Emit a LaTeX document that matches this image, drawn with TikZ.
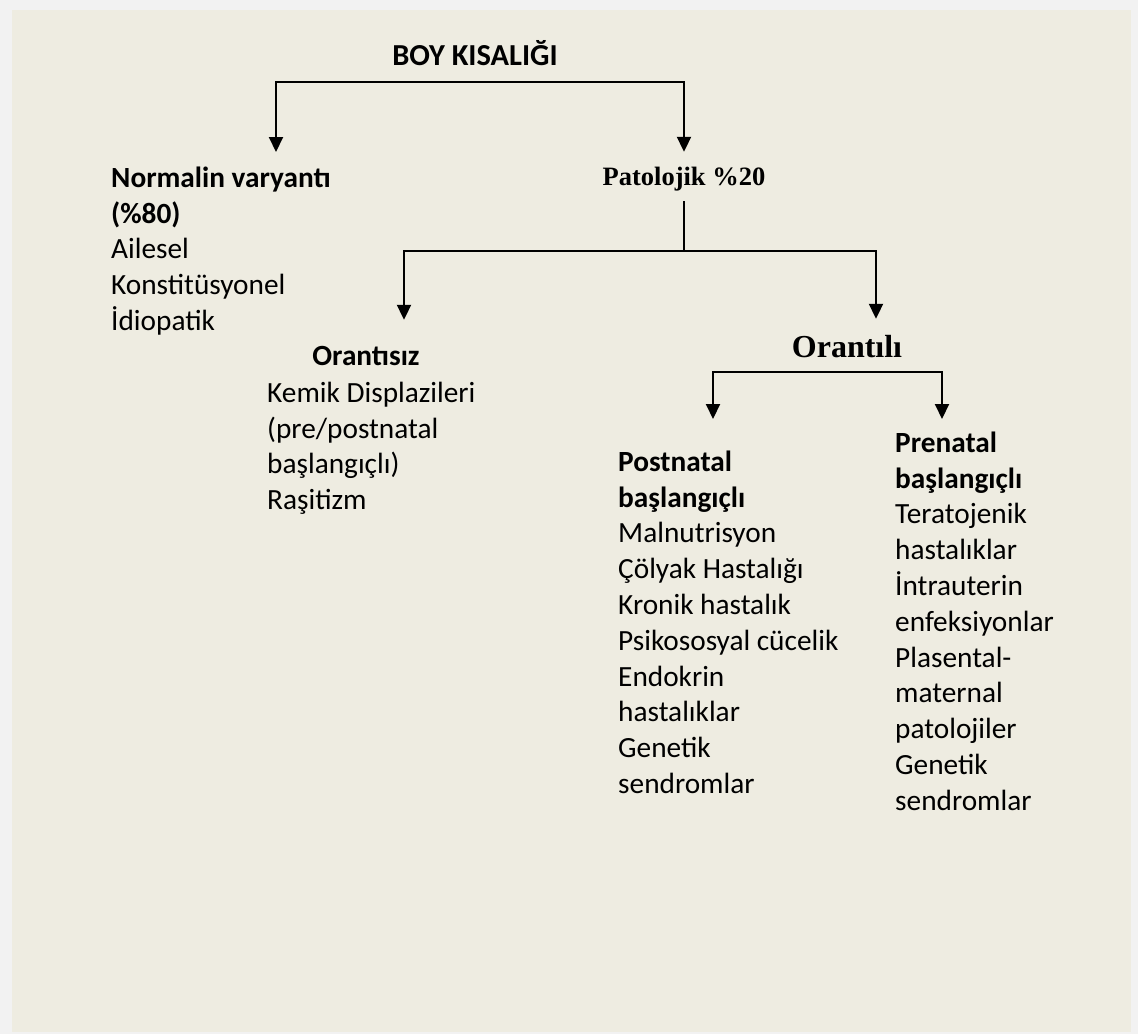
\documentclass[tikz,border=0pt]{standalone}
\usepackage{fontspec}
\setmainfont{Carlito}
\newfontfamily\serifhead{Liberation Serif}
\usetikzlibrary{arrows.meta, positioning}
\definecolor{pagebg}{RGB}{242,242,242}
\definecolor{panelbg}{RGB}{238,236,225}

\begin{document}
\begin{tikzpicture}[
  x=1pt, y=-1pt,
  txt/.style={inner sep=0pt, align=left, anchor=north west, font=\fontsize{29.3}{35.8}\selectfont},
  head/.style={inner sep=0pt, anchor=base, font=\fontsize{29.3}{35.8}\selectfont\bfseries},
  serifhead/.style={inner sep=0pt, anchor=base, font=\serifhead\bfseries},
  arrow/.style={-{Triangle[width=14pt,length=15pt]}, line width=2pt, line cap=rect},
  bar/.style={line width=2pt, line cap=rect}
]

\fill[pagebg] (0,0) rectangle (1138,1034);
\fill[panelbg] (12,10) rectangle (1131,1032);

\node (root) [head, font=\fontsize{30.5}{36}\selectfont\bfseries] at (475,65) {BOY KISALIĞI};

\node (normal) [txt] at (111,152) {\rule{0pt}{35pt}\textbf{Normalin varyantı}\\\textbf{(\%80)}\\Ailesel\\Konstitüsyonel\\İdiopatik};
\node (pat) [serifhead, font=\serifhead\bfseries\fontsize{26.5}{30}\selectfont, text height=33pt, text depth=17pt] at (684,185) {Patolojik \%20};

\node (orsiz) [head, text height=45pt] at (366,365) {Orantısız};
\node (orsiz_list) [txt] at (267,370) {\rule{0pt}{32pt}Kemik Displazileri\\(pre/postnatal\\başlangıçlı)\\Raşitizm};
\node (orli) [serifhead, font=\serifhead\bfseries\fontsize{32}{38}\selectfont, text height=38pt] at (847,357) {Orantılı};

\node (post) [txt] at (618,419) {\rule{0pt}{52pt}\textbf{Postnatal}\\\textbf{başlangıçlı}\\Malnutrisyon\\Çölyak Hastalığı\\Kronik hastalık\\Psikososyal cücelik\\Endokrin\\hastalıklar\\Genetik\\sendromlar};
\node (pre) [txt] at (895,419) {\rule{0pt}{33pt}\textbf{Prenatal}\\\textbf{başlangıçlı}\\Teratojenik\\hastalıklar\\İntrauterin\\enfeksiyonlar\\Plasental-\\maternal\\patolojiler\\Genetik\\sendromlar};

% fork points
\coordinate (fork1_l) at (276,82);
\coordinate (fork1_r) at (684,82);
\coordinate (fork2_l) at (404,251);
\coordinate (fork2_r) at (876,251);
\coordinate (fork3_l) at (713,372);
\coordinate (fork3_r) at (942,372);

\draw [bar] (fork1_l) -- (fork1_r);
\draw [arrow] (fork1_l) -- (fork1_l |- normal.north);
\draw [arrow] (fork1_r) -- (pat.north);

\draw [bar] (pat.south) -- (pat.south |- fork2_l);
\draw [bar] (fork2_l) -- (fork2_r);
\draw [arrow] (fork2_l) -- (fork2_l |- orsiz.north);
\draw [arrow] (fork2_r) -- (fork2_r |- orli.north);

\draw [bar] (fork3_l) -- (fork3_r);
\draw [arrow] (fork3_l) -- (fork3_l |- post.north);
\draw [arrow] (fork3_r) -- (fork3_r |- pre.north);

\end{tikzpicture}
\end{document}
